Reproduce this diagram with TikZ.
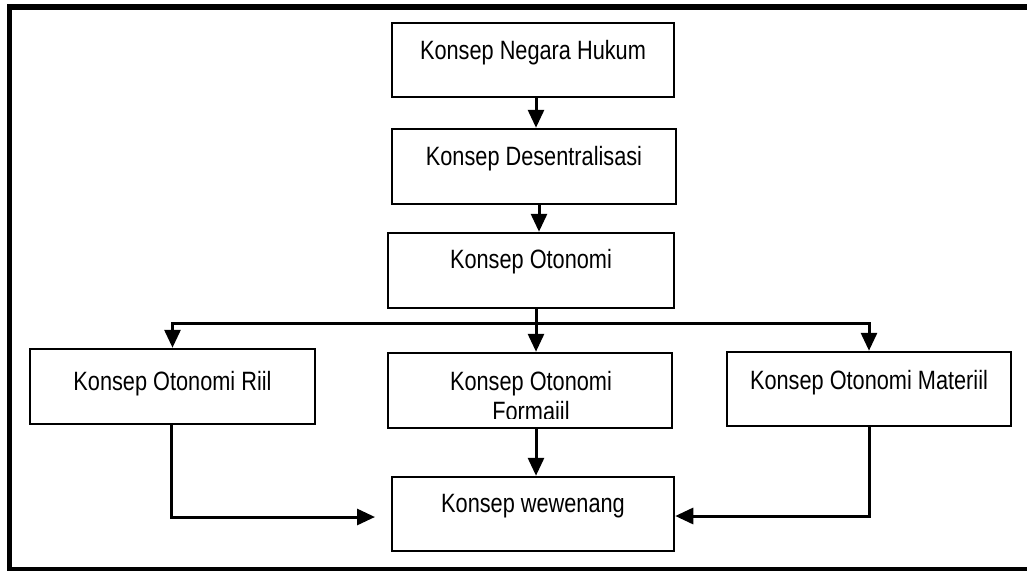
\documentclass[tikz,border=0pt]{standalone}
\usepackage{fontspec}
\setmainfont{Liberation Sans}[FakeStretch=0.82]
\usetikzlibrary{arrows.meta}

\tikzset{
  frameline/.style={line width=5.5pt, line join=miter},
  box/.style={draw, line width=2.5pt, inner sep=0pt, rectangle},
  txt/.style={inner sep=0pt},
  conn/.style={line width=3pt},
  arr/.style={conn, -{Triangle[width=16pt,length=18pt]}},
}

\begin{document}
\begin{tikzpicture}[x=1pt, y=-1pt, font=\fontsize{26.5}{30}\selectfont]
  \useasboundingbox (0,0) rectangle (1027,570);

  % outer frame, open on the right
  \draw[frameline] (1035,7) -- (9.5,7) -- (9.5,569.5) -- (1035,569.5);

  % single-line boxes: anchored at the text baseline
  \node[box, anchor=base, minimum width=282pt, text height=36pt, text depth=38pt]
    (b1) at (533,59) {Konsep Negara Hukum};
  \node[box, anchor=base, minimum width=284pt, text height=36pt, text depth=39pt]
    (b2) at (534,165) {Konsep Desentralisasi};
  \node[box, anchor=base, minimum width=286pt, text height=35pt, text depth=40pt]
    (b3) at (531,268) {Konsep Otonomi};
  \node[box, anchor=base, minimum width=285pt, text height=41pt, text depth=34pt]
    (b4) at (172.5,390) {Konsep Otonomi Riil};
  \node[box, anchor=base, minimum width=284pt, text height=37pt, text depth=37pt]
    (b7) at (869,389) {Konsep Otonomi Materiil};
  \node[box, anchor=base, minimum width=282pt, text height=35pt, text depth=39pt]
    (b6) at (533,512) {Konsep wewenang};

  % two-line box, its text cut off at the inner margin
  \node[box, minimum width=284pt, minimum height=75pt] (b5) at (530,390.5) {};
  \begin{scope}
    \clip (b5.north west) rectangle ([yshift=11pt]b5.south east);
    \node[txt, anchor=base] (t5a) at (531,390) {Konsep Otonomi};
    \node[txt, anchor=base] (t5b) at (531,420) {Formaiil};
  \end{scope}

  % vertical chain
  \draw[arr] ([xshift=3pt]b1.south) -- ([xshift=3pt]b1.south |- b2.north);
  \draw[arr] ([xshift=5pt]b2.south) -- ([xshift=5pt]b2.south |- b3.north);

  % branching below Konsep Otonomi
  \coordinate (jn) at (536,323);
  \draw[arr] (b3.south -| jn) -- (b5.north -| jn);
  \draw[arr] (jn) -| (b4.north);
  \draw[arr] (jn) -| (b7.north);

  % into Konsep wewenang
  \draw[arr] ([xshift=6pt]b5.south) -- ([xshift=6pt]b5.south |- b6.north);
  \coordinate (riiltip) at (375,517);
  \draw[arr] ([xshift=-1.5pt]b4.south) |- (riiltip);
  \draw[arr] (b7.south) |- ([yshift=-2pt]b6.east);
\end{tikzpicture}
\end{document}
